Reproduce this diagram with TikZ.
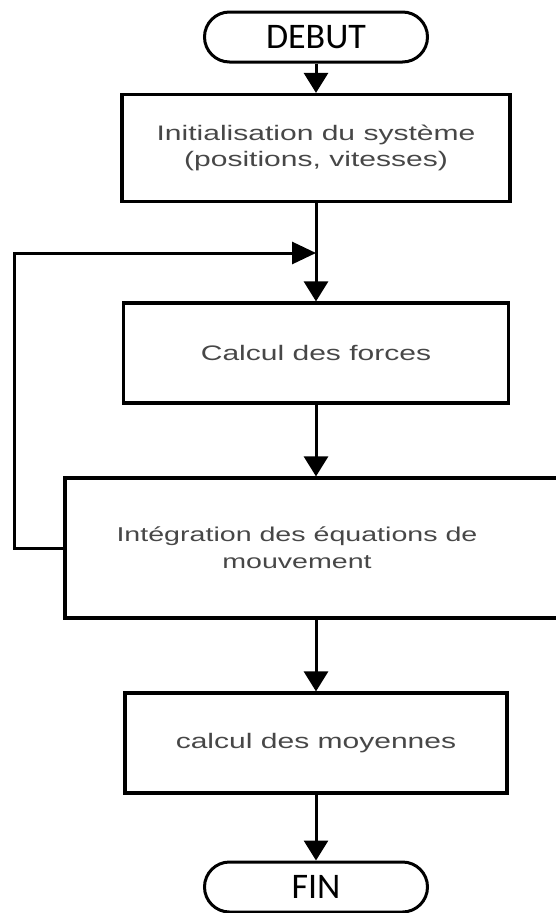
\documentclass[tikz,border=0pt]{standalone}
\usepackage{fontspec}
\setmainfont{Liberation Sans}
\newfontfamily\boxfont{Liberation Sans}[FakeStretch=1.43]
\newfontfamily\termfont{Carlito}
\usetikzlibrary{arrows.meta}
\begin{document}
\begin{tikzpicture}[x=1pt,y=-1pt,
  proc/.style={draw=black, line width=3.2pt, minimum width=385pt, minimum height=100pt, inner sep=0pt, font=\boxfont\fontsize{21}{26}\selectfont, text=black!72, align=center},
  plain/.style={draw=black, line width=3.2pt, inner sep=0pt},
  txt/.style={inner sep=0pt, font=\boxfont\fontsize{20}{27}\selectfont, text=black!72, align=center},
  term/.style={draw=black, line width=3pt, rounded corners=25pt, minimum width=223pt, minimum height=50pt, inner sep=0pt, font=\termfont\fontsize{36}{40}\selectfont},
  flow/.style={line width=3pt, -{Triangle[width=24pt,length=20pt]}},
  loopline/.style={line width=3pt, line join=miter, -{Triangle[width=22pt,length=24pt]}}]
\useasboundingbox (0,0) rectangle (555,913);
\node[term] (debut) at (316,37) {DEBUT};
\node[proc, minimum height=107pt, minimum width=388pt] (init) at (316,148) {Initialisation du système\\(positions, vitesses)};
\node[proc] (forces) at (316,353) {Calcul des forces};
\node[plain, minimum width=512pt, minimum height=140pt] (integ) at (321,548) {};
\node[txt] (integtxt) at (297,548) {Intégration des équations de\\mouvement};
\node[proc, minimum width=382pt] (moy) at (316,743) {calcul des moyennes};
\node[term] (fin) at (316,887) {FIN};
\coordinate (join) at (316,253);
\coordinate (corner) at (14,253);
\draw[flow] (debut.south) -- (init.north);
\draw[flow] (init.south) -- (forces.north);
\draw[flow] (forces.south) -- (forces.south |- integ.north);
\draw[flow] (forces.south |- integ.south) -- (moy.north);
\draw[flow] (moy.south) -- (fin.north);
\draw[loopline] (integ.west) -| (corner) -- (join);
\end{tikzpicture}
\end{document}
